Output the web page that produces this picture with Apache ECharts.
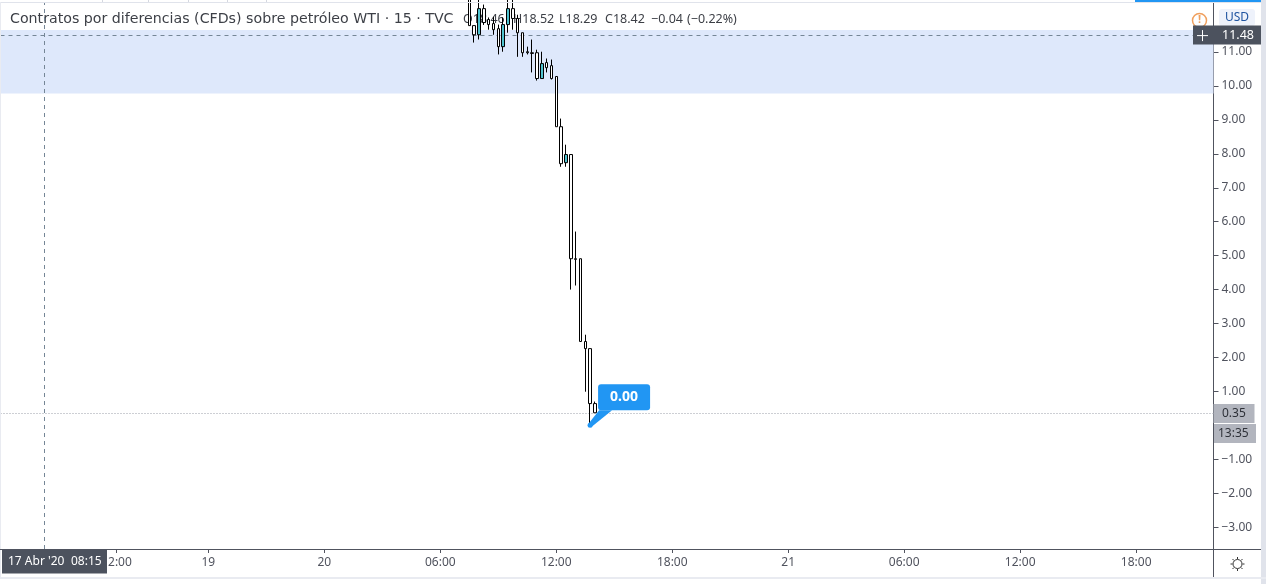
<!DOCTYPE html>
<html><head><meta charset="utf-8">
<style>html,body{margin:0;padding:0;background:#fff}#c{width:1266px;height:584px}</style>
<script src="https://cdn.jsdelivr.net/npm/echarts@6/dist/echarts.min.js"></script>
</head><body><div id="c"></div>
<script>
// 15-minute slots on a compressed trading time axis
const slots  = [97,98,99,100,101,102,103,104,105,106,107,108,109,110,111,112,113,114,115,116,117,118,119,120,121,122,123];
const opens  = [13.0,11.78,11.51,12.28,11.96,11.84,11.69,11.16,11.81,12.28,11.99,11.57,11.01,10.98,10.98,10.22,10.69,10.60,10.28,8.80,7.74,7.98,4.91,4.91,2.47,2.26,0.64];
const closes = [11.78,11.51,12.28,11.87,11.81,11.66,11.16,11.81,12.28,11.99,11.57,10.98,10.98,10.96,10.22,10.66,10.54,10.22,8.80,7.71,7.98,4.91,4.89,2.47,2.26,0.64,0.37];
const lows   = [11.78,11.28,11.37,11.80,11.66,11.51,10.93,11.01,11.57,11.66,10.86,10.86,10.93,10.40,10.16,10.22,10.40,10.19,8.80,7.62,7.62,4.00,4.12,2.47,0.99,0.02,0.37];
const highs  = [13.4,11.78,13.0,12.40,12.02,12.04,11.81,12.02,12.6,12.6,12.10,11.57,11.16,11.37,11.07,11.01,10.81,10.78,10.28,9.04,8.27,7.98,5.71,4.91,2.67,2.26,0.70];
const xTickSlots  = [24,43,67,91,115,139,163,187,211,235];
const xTickLabels = ['12:00','19','20','06:00','12:00','18:00','21','06:00','12:00','18:00'];
const yTickValues = [-3,-2,-1,1,2,3,4,5,6,7,8,9,10,11];
const bandTop = 11.66, bandBottom = 9.78;
const crossPrice = 11.5, crossLabel = '11.48', crossSlot = 9.1, lastPrice = 0.35, calloutPrice = 0, calloutSlot = 122;
const titleText = 'Contratos por diferencias (CFDs) sobre petróleo WTI · 15 · TVC';
const ohlcTexts = ['O18.46','H18.52','L18.29','C18.42','−0.04','(−0.22%)'];
const ohlcLefts = [463,513,559,605,651,687];

const FONT = '"Noto Sans"';
const gridL = 0.5, gridR = 1213.5, gridT = 3, gridB = 549;
const pxPerUnit = 33.93, zeroY = 425.3;
const chart = echarts.init(document.getElementById('c'));
const candles = slots.map((s,i)=>[s,opens[i],closes[i],lows[i],highs[i]]);
const dashLine = {color:'#758696',type:[4,4],width:1};

chart.setOption({
  animation:false,
  backgroundColor:'#fff',
  grid:{left:gridL,top:gridT,width:gridR-gridL,height:gridB-gridT,containLabel:false},
  xAxis:{type:'value',min:0,max:251,
    axisLine:{lineStyle:{color:'#50535e',width:1},onZero:false},
    axisTick:{length:4,customValues:xTickSlots,lineStyle:{color:'#50535e'}},
    splitLine:{show:false},
    axisLabel:{customValues:xTickSlots,color:'#50535e',fontFamily:FONT,fontSize:12,margin:8,
      formatter:v=>xTickLabels[xTickSlots.indexOf(v)]||''}},
  yAxis:{type:'value',position:'right',min:(zeroY-gridB)/pxPerUnit,max:(zeroY-gridT)/pxPerUnit,
    axisLine:{show:true,onZero:false,lineStyle:{color:'#50535e',width:1}},
    axisTick:{show:true,length:5,customValues:yTickValues,lineStyle:{color:'#50535e'}},
    splitLine:{show:false},
    axisLabel:{customValues:yTickValues,color:'#50535e',fontFamily:FONT,fontSize:12,margin:8,
      formatter:v=>(v<0?'−':'')+Math.abs(v).toFixed(2)}},
  series:[{type:'candlestick',data:candles,encode:{x:0,y:[1,2,3,4]},barWidth:3,clip:true,z:3,
    itemStyle:{color:'#4fc3cf',color0:'#ffffff',borderColor:'#000',borderColor0:'#000',borderWidth:1},
    markArea:{silent:true,z:1,itemStyle:{color:'#dee8fb',opacity:1},data:[[{yAxis:bandTop},{yAxis:bandBottom}]]},
    markLine:{silent:true,symbol:'none',label:{show:false},z:2,data:[
      {yAxis:crossPrice,lineStyle:dashLine},
      {xAxis:crossSlot,lineStyle:dashLine},
      {yAxis:lastPrice,lineStyle:{color:'#9a9ea8',type:[1,2],width:1}}
    ]}
  }]
});

const P = (x,y)=>chart.convertToPixel({xAxisIndex:0,yAxisIndex:0},[x,y]);
const anchor = P(calloutSlot,calloutPrice);
const crossY = P(0,crossPrice)[1], lastY = P(0,lastPrice)[1];
const txt=(x,y,t,o={})=>({type:'text',z:o.z||100,style:Object.assign({x,y,text:t,fill:'#fff',fontFamily:FONT,fontSize:12,align:'left',verticalAlign:'middle'},o.s||{})});
const rect=(x,y,w,h,fill,r)=>({type:'rect',z:99,shape:{x,y,width:w,height:h,r:r||0},style:{fill}});
const line=(x1,y1,x2,y2,c,w)=>({type:'line',z:99,shape:{x1,y1,x2,y2},style:{stroke:c,lineWidth:w||1}});

const gfx=[
  // frame
  rect(0,2,1261,1,'#e0e3eb'),
  rect(1135,0,131,2,'#2196f3'),
  rect(1261,0,5,584,'#e0e3eb'),
  rect(0,577,1266,2,'#e9ebf1'),
  rect(0,2,1,575,'#e9ebf1'),
  line(102.5,0,102.5,2,'#d5d8e0'),line(148.5,0,148.5,2,'#d5d8e0'),line(188.5,0,188.5,2,'#d5d8e0'),line(227.5,0,227.5,2,'#d5d8e0'),line(266.5,0,266.5,2,'#d5d8e0'),
  line(0,gridB+.5,1261,gridB+.5,'#50535e'),
  line(gridR,gridB,gridR,577,'#50535e'),
  // legend, beneath the candles
  rect(0,3,1213,27,'#ffffff'),
];
gfx[gfx.length-1].z=1;
gfx.push(txt(10,19,titleText,{z:1,s:{fontFamily:'"DejaVu Sans"',fontSize:14.2,fill:'#3c3f46'}}));
ohlcTexts.forEach((t,i)=>gfx.push(txt(ohlcLefts[i],19,t,{z:1,s:{fontSize:12.5,fill:'#3c3f46'}})));
// USD button + alert
gfx.push(rect(1219,9,36,17,'#eef2fb',3));
gfx.push(txt(1237,18,'USD',{s:{fill:'#1e53a0',align:'center',fontSize:12}}));
gfx.push({type:'circle',z:99,shape:{cx:1199.5,cy:20.5,r:7},style:{fill:'#fff',stroke:'#f0a05e',lineWidth:1.5}});
gfx.push(txt(1199.5,20,'!',{s:{fill:'#f0a05e',align:'center',fontSize:11,fontWeight:'bold'}}));
// crosshair price
gfx.push(rect(1193,crossY-9.5,68,19,'#4c525e'));
gfx.push(line(1197,crossY+.5,1208,crossY+.5,'#fff'));
gfx.push(line(1202.5,crossY-5,1202.5,crossY+6,'#fff'));
gfx.push(txt(1222,crossY+.5,crossLabel,{s:{fontSize:12.5}}));
// last price + countdown
gfx.push(rect(gridR,lastY-9.5,41,19,'#b2b5be'));
gfx.push(txt(1222,lastY,lastPrice.toFixed(2),{s:{fill:'#2e3138'}}));
gfx.push(rect(gridR+.5,lastY+10.5,42,19,'#b2b5be'));
gfx.push(txt(1218,lastY+20,'13:35',{s:{fill:'#2e3138'}}));
// crosshair date
gfx.push(rect(2,gridB+.5,105,24,'#4c525e'));
gfx.push(txt(8,gridB+13,"17 Abr '20",{s:{fontSize:12}}));
gfx.push(txt(71,gridB+13,'08:15',{s:{fontSize:12}}));
// gear
gfx.push({type:'circle',z:99,shape:{cx:1237.5,cy:564,r:4.5},style:{fill:'#fff',stroke:'#333',lineWidth:1}});
[[0,-7,0,-5],[0,5,0,7],[-7,0,-5,0],[5,0,7,0],[-5,-5,-3.5,-3.5],[5,-5,3.5,-3.5],[-5,5,-3.5,3.5],[5,5,3.5,3.5]].forEach(a=>
  gfx.push(line(1237.5+a[0],564+a[1],1237.5+a[2],564+a[3],'#333')));
// callout
gfx.push({type:'polygon',z:99,shape:{points:[[anchor[0]-2,anchor[1]-1],[anchor[0]+1,anchor[1]+2],[anchor[0]+22,anchor[1]-15],[anchor[0]+9,anchor[1]-15]]},style:{fill:'#2196f3'}});
gfx.push({type:'circle',z:99,shape:{cx:anchor[0],cy:anchor[1],r:2.5},style:{fill:'#2196f3'}});
gfx.push(rect(anchor[0]+8,anchor[1]-41,52,26,'#2196f3',3));
gfx.push(txt(anchor[0]+34,anchor[1]-28,calloutPrice.toFixed(2),{s:{align:'center',fontSize:14,fontWeight:'bold'}}));
chart.setOption({graphic:{elements:gfx}});
</script></body></html>
